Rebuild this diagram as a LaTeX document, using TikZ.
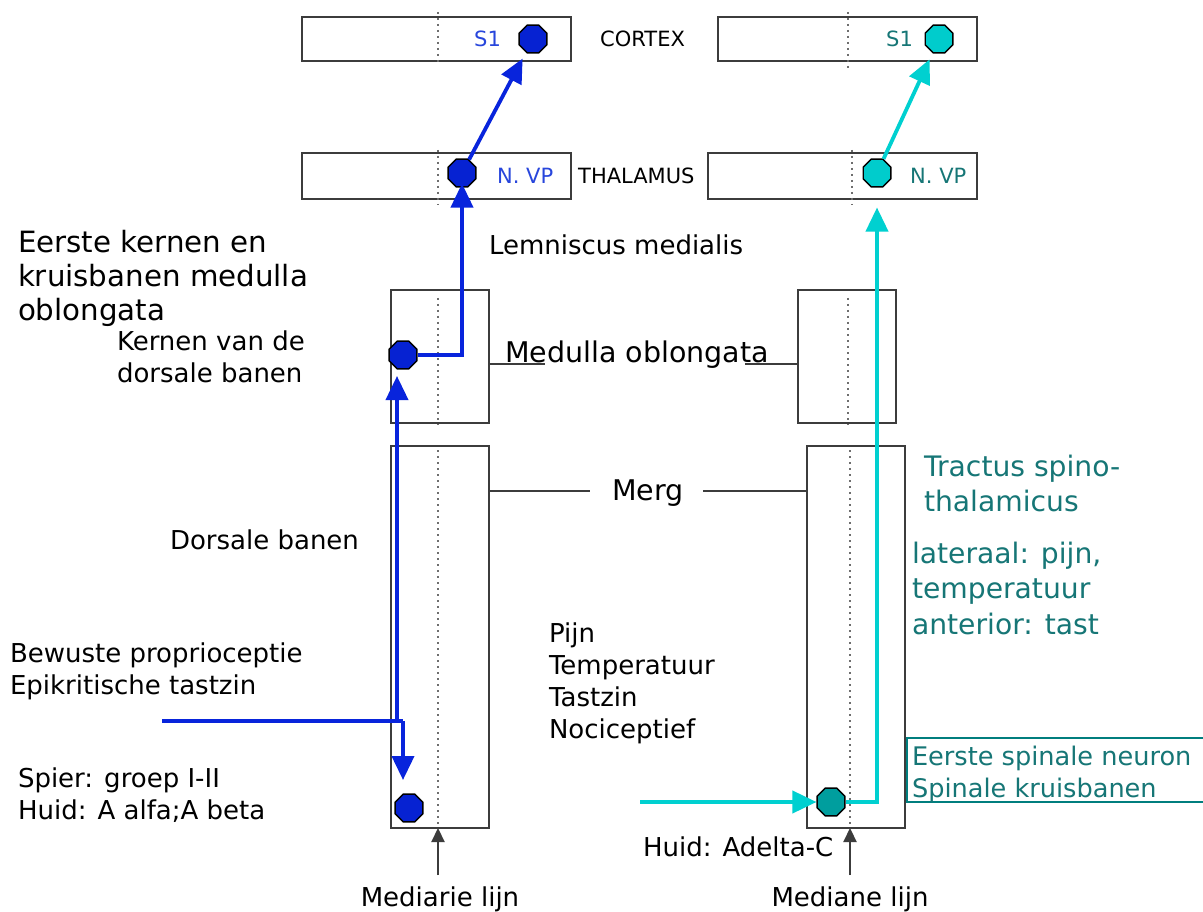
\documentclass[tikz,border=0pt]{standalone}
\usepackage{fontspec}
\setmainfont{DejaVu Sans}
\usetikzlibrary{arrows.meta,shapes.geometric}
\definecolor{pathblue}{RGB}{8,36,220}
\definecolor{pathcyan}{RGB}{0,208,208}
\definecolor{dotblue}{RGB}{6,34,210}
\definecolor{dotcyan}{RGB}{0,204,204}
\definecolor{dotteal}{RGB}{0,158,158}
\definecolor{tealtext}{RGB}{22,118,118}
\definecolor{labelblue}{RGB}{40,70,220}
\definecolor{boxgray}{RGB}{60,60,60}
\definecolor{midgray}{RGB}{110,110,110}

\begin{document}
\begin{tikzpicture}[x=1pt,y=-1pt,
  level/.style={draw=boxgray,line width=2pt,inner sep=0pt,outer sep=0pt},
  midline/.style={draw=midgray,line width=2.2pt,dash pattern=on 2pt off 4pt},
  neuron/.style={regular polygon,regular polygon sides=8,minimum size=30pt,
    inner sep=0pt,draw=black,line width=1.3pt},
  bluepath/.style={draw=pathblue,line width=3.8pt},
  cyanpath/.style={draw=pathcyan,line width=3.8pt},
  bigtip/.style={-{Triangle[length=24pt,width=22pt]}},
  txt/.style={inner sep=0pt,outer sep=0pt,align=left,anchor=north west},
  bigfont/.style={font=\fontsize{28.5}{34}\selectfont},
  midfont/.style={font=\fontsize{26}{32}\selectfont},
  smallfont/.style={font=\fontsize{21}{24}\selectfont},
  conn/.style={draw=boxgray,line width=2pt},
  pointer/.style={draw=boxgray,line width=2.2pt,-{Triangle[length=14pt,width=13pt]}}
]
\useasboundingbox[fill=white] (0,0) rectangle (1203,912);

% ---- level boxes ----
\node[level,minimum width=269pt,minimum height=44pt] (ctxL) at (436.5,39) {};
\node[level,minimum width=259pt,minimum height=44pt] (ctxR) at (847.5,39) {};
\node[level,minimum width=269pt,minimum height=46pt] (thaL) at (436.5,176) {};
\node[level,minimum width=269pt,minimum height=46pt] (thaR) at (842.5,176) {};
\node[level,minimum width=98pt,minimum height=133pt] (medL) at (440,356.5) {};
\node[level,minimum width=98pt,minimum height=133pt] (medR) at (847,356.5) {};
\node[level,minimum width=98pt,minimum height=382pt] (spiL) at (440,637) {};
\node[level,minimum width=98pt,minimum height=382pt] (spiR) at (856,637) {};

% ---- median lines ----
\draw[midline] (438,12) -- (438,65);
\draw[midline] (848,12) -- (848,70);
\draw[midline] (438,150) -- (438,205);
\draw[midline] (852,150) -- (852,205);
\draw[midline] (438,298) -- (438,425);
\draw[midline] (848,298) -- (848,425);
\draw[midline] (438,450) -- (438,828);
\draw[midline] (850,450) -- (850,828);

% ---- level names ----
\node[smallfont,inner sep=0pt,anchor=base west] (cortex) at (600,47) {CORTEX};
\node[smallfont,inner sep=0pt,anchor=base west] (thalamus) at (578,184) {THALAMUS};
\node[smallfont,inner sep=0pt,anchor=base west,text=labelblue] (s1L) at (474,47) {S1};
\node[smallfont,inner sep=0pt,anchor=base west,text=tealtext] (s1R) at (886,47) {S1};
\node[smallfont,inner sep=0pt,anchor=base west,text=labelblue] (nvpL) at (497,184) {N. VP};
\node[smallfont,inner sep=0pt,anchor=base west,text=tealtext] (nvpR) at (910,184) {N. VP};

\node[bigfont,inner sep=0pt,anchor=base west] (mo) at (505,362) {Medulla oblongata};
\node[bigfont,inner sep=0pt,anchor=base west] (merg) at (612,500) {Merg};
\draw[conn] (medL.east |- 0,364) -- (545,364);
\draw[conn] (745,364) -- (medR.west |- 0,364);
\draw[conn] (spiL.east |- 0,491) -- (590,491);
\draw[conn] (703,491) -- (spiR.west |- 0,491);

% ---- neurons ----
\node[neuron,fill=dotblue] (nCtxL) at (533,39) {};
\node[neuron,fill=dotcyan] (nCtxR) at (939,39) {};
\node[neuron,fill=dotblue] (nThaL) at (462,173) {};
\node[neuron,fill=dotcyan] (nThaR) at (877,173) {};
\node[neuron,fill=dotblue] (nMedL) at (403,355) {};
\node[neuron,fill=dotblue] (nSpiL) at (409,808) {};
\node[neuron,fill=dotteal] (nSpiR) at (831,802) {};

% ---- dorsal column pathway ----
\coordinate (inL) at (162,721);
\coordinate (joinL) at (397,721);
\coordinate (bendL) at (403,721);
\coordinate (downL) at (403,780);
\coordinate (upL) at (397,376);
\draw[bluepath] (inL) -- (bendL);
\draw[bluepath,bigtip] (bendL) -- (downL);
\draw[bluepath,bigtip] (joinL) -- (upL);
\draw[bluepath,bigtip,shorten >=-4pt] (nMedL.east) -| (nThaL.south);
\draw[bluepath,bigtip,shorten >=7pt] (nThaL) -- (nCtxL);

% ---- spinothalamic pathway ----
\coordinate (inR) at (640,802);
\draw[cyanpath,bigtip] (inR) -- (nSpiR.west);
\draw[cyanpath,bigtip,shorten >=20pt] (nSpiR.east) -| (nThaR.south);
\draw[cyanpath,bigtip,shorten >=7pt] (nThaR) -- (nCtxR);

% ---- text labels ----
\node[txt,font=\fontsize{29.3}{34}\selectfont] (eerste) at (18,230) {Eerste kernen en\\kruisbanen medulla\\oblongata};
\node[txt,midfont] (kernen) at (117,331) {Kernen van de\\dorsale banen};
\node[txt,midfont] (lemn) at (489,235) {Lemniscus medialis};
\node[txt,midfont] (dorsale) at (170,530) {Dorsale banen};
\node[txt,midfont] (bewust) at (10,643) {Bewuste proprioceptie\\Epikritische tastzin};
\node[txt,midfont] (spier) at (18,768) {Spier: groep I-II\\Huid: A alfa;A beta};
\node[txt,midfont] (pijn) at (549,623) {Pijn\\Temperatuur\\Tastzin\\Nociceptief};
\node[txt,midfont] (huid) at (643,837) {Huid: Adelta-C};
\node[txt,text=tealtext,font=\fontsize{28.2}{35}\selectfont] (tractus) at (924,455) {Tractus spino-\\thalamicus};
\node[txt,text=tealtext,font=\fontsize{28.2}{35.5}\selectfont] (lateraal) at (912,542) {lateraal: pijn,\\temperatuur\\anterior: tast};
\draw[draw=dotteal!80!black,line width=1.8pt] (907,738) rectangle (1210,802);
\node[txt,font=\fontsize{25.6}{32}\selectfont,text=tealtext] (spinale) at (912,746) {Eerste spinale neuron\\Spinale kruisbanen};

% ---- median line markers ----
\node[midfont,inner sep=0pt,anchor=north] (mlL) at (440,887) {Mediarie lijn};
\node[midfont,inner sep=0pt,anchor=north] (mlR) at (850,887) {Mediane lijn};
\coordinate (mlLtop) at (438,875);
\coordinate (mlRtop) at (850,875);
\draw[pointer] (mlLtop) -- (spiL.south -| mlLtop);
\draw[pointer] (mlRtop) -- (spiR.south -| mlRtop);
\end{tikzpicture}
\end{document}
